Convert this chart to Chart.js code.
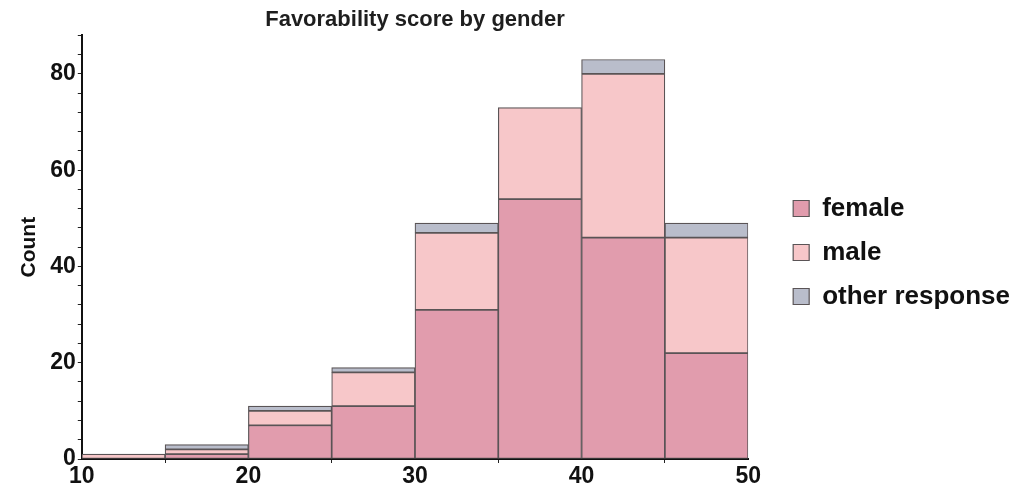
<!DOCTYPE html>
<html>
<head>
<meta charset="utf-8">
<script src="https://cdn.jsdelivr.net/npm/chart.js@4/dist/chart.umd.min.js"></script>
<style>
  body { margin: 0; background: #fff; }
  #wrap { width: 1013px; height: 490px; }
</style>
</head>
<body>
<div id="wrap"><canvas id="hist" width="1013" height="490"></canvas></div>
<script>
// bin centres (bins are 5 wide, from 10 to 50)
const binCenters = [12.5, 17.5, 22.5, 27.5, 32.5, 37.5, 42.5, 47.5]
const female = [0, 1, 7, 11, 31, 54, 46, 22]
const male = [1, 1, 3, 7, 16, 19, 34, 24]
const otherResponse = [0, 1, 1, 1, 2, 0, 3, 3]
const seriesNames = ["female", "male", "other response"]
const seriesColors = ["#e19cad", "#f7c7c9", "#b9bdcb"]

function toPoints(values){
  let pts = []
  for (let i = 0; i < values.length; i++){
    pts.push({x: binCenters[i], y: values[i]})
  }
  return pts
}

function make_dataset(i, values){
  return {
    label: seriesNames[i],
    data: toPoints(values),
    backgroundColor: seriesColors[i],
    borderColor: "#5a5456",
    borderWidth: 1.2,
    barPercentage: 1,
    categoryPercentage: 1,
    borderSkipped: false
  }
}

// legend sits further from the plot than chart.js puts it:
// make the legend box wider (plot gets narrower) then nudge it right
const legendGap = { extra: 20, shift: 27, down: 6 }
const legendSpacer = {
  id: "legendSpacer",
  afterInit(chart){
    const lg = chart.legend
    const origFit = lg.fit
    lg.fit = function(){
      origFit.call(this)
      this.width += legendGap.extra
    }
  },
  afterLayout(chart){
    const lg = chart.legend
    lg.left += legendGap.shift
    lg.right += legendGap.shift
    lg.top += legendGap.down
    lg.bottom += legendGap.down
  }
}

const fontFam = "'Liberation Sans', Arial, sans-serif"

node = document.getElementById("hist").getContext("2d")
let chart = new Chart(node, {
  type: "bar",
  data: {
    datasets: [
      make_dataset(0, female),
      make_dataset(1, male),
      make_dataset(2, otherResponse)
    ]
  },
  plugins: [legendSpacer],
  options: {
    responsive: false,
    animation: false,
    layout: { padding: { top: 3, right: 0, left: 13, bottom: 0 } },
    plugins: {
      title: {
        display: true,
        text: "Favorability score by gender",
        fullSize: false,
        color: "#1e1e1e",
        font: { family: fontFam, size: 22, weight: "bold" },
        padding: { top: 4, bottom: 2 }
      },
      legend: {
        position: "right",
        labels: {
          color: "#111",
          font: { family: fontFam, size: 26, weight: "bold" },
          boxWidth: 16,
          boxHeight: 16,
          padding: 18
        }
      },
      tooltip: { enabled: false }
    },
    scales: {
      x: {
        type: "linear",
        stacked: true,
        min: 10,
        max: 50,
        offset: false,
        grid: { drawOnChartArea: false, color: "#222", tickLength: 4 },
        border: { color: "#111", width: 2 },
        ticks: {
          stepSize: 10,
          autoSkip: false,
          maxRotation: 0,
          color: "#111",
          padding: 2,
          font: { family: fontFam, size: 23, weight: "bold", lineHeight: 1.0 }
        }
      },
      y: {
        stacked: true,
        min: 0,
        max: 88,
        grid: { drawOnChartArea: false, color: "#222", tickLength: 4 },
        border: { color: "#111", width: 2 },
        title: {
          display: true,
          text: "Count",
          color: "#111",
          font: { family: fontFam, size: 21, weight: "bold" },
          padding: { bottom: 6 }
        },
        ticks: {
          stepSize: 4,
          autoSkip: false,
          color: "#111",
          padding: 2,
          font: { family: fontFam, size: 23, weight: "bold" },
          callback: function(v){ return (v % 20 === 0) ? v : "" }
        }
      }
    }
  }
})
</script>
</body>
</html>
